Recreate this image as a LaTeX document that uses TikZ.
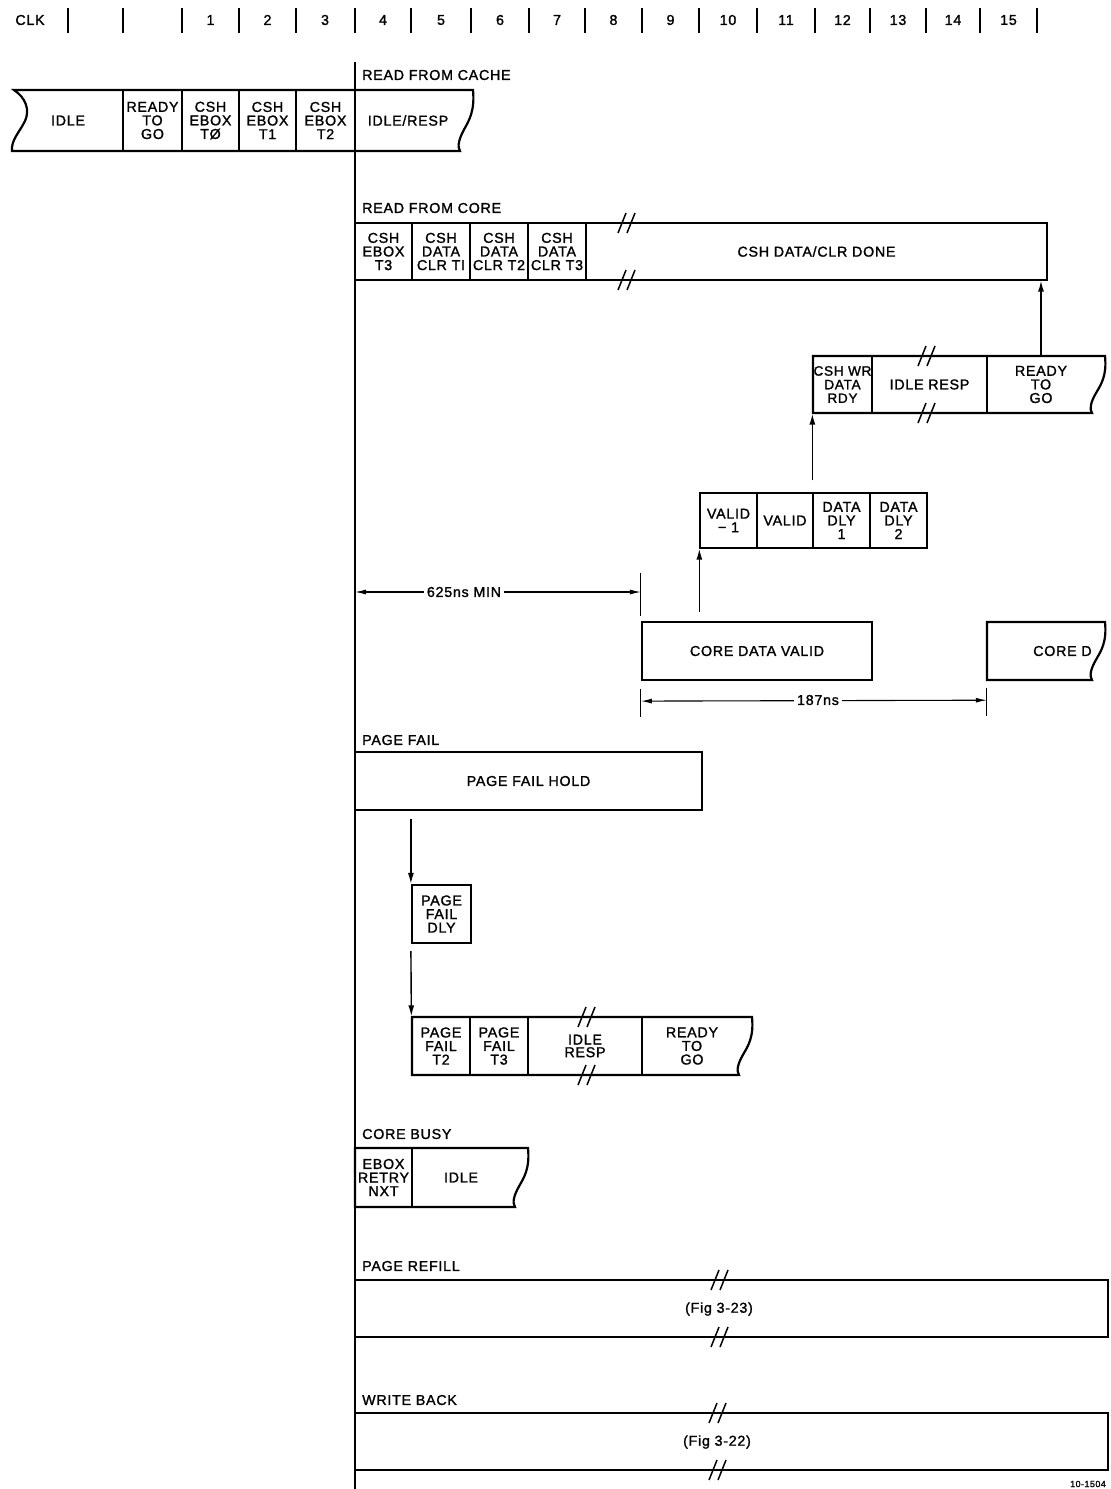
\documentclass[tikz,border=0pt]{standalone}
\usepackage{fontspec}
\setmainfont[LetterSpace=5,FakeBold=1.4]{Liberation Sans}
\usetikzlibrary{arrows.meta}
% torn (wavy) right edge box: left, top, right, bottom
\newcommand\tornbox[4]{%
  \draw[outline] (#1,#4) -- (#1,#2) -- (#3,#2)
    .. controls ({#3+2},{#2+0.35*(#4-#2)}) and ({#3-4},{#2+0.5*(#4-#2)}) .. ({#3-9},{#2+0.65*(#4-#2)})
    .. controls ({#3-14},{#2+0.8*(#4-#2)}) and ({#3-16},{#2+0.93*(#4-#2)}) .. ({#3-13},#4) -- cycle;}
\newcommand\brkmark[2]{%
  \draw[line width=1.5pt] ({#1-7},{#2+10}) -- ({#1+1},{#2-10}) ({#1+2},{#2+10}) -- ({#1+10},{#2-10});}
\begin{document}
\begin{tikzpicture}[x=1pt,y=-1pt,
  txt/.style={font=\fontsize{14.3}{13.6}\selectfont, align=center, inner sep=0pt},
  cell/.style 2 args={txt, draw, line width=1.3pt, minimum width=#1, minimum height=#2},
  blank/.style 2 args={txt, minimum width=#1, minimum height=#2},
  outline/.style={line width=2.2pt, line join=miter},
  lab/.style={txt, anchor=west},
  arr/.style={-{Latex[length=11pt,width=6pt]}, line width=1.4pt},
  dim/.style={{Latex[length=11pt,width=5pt]}-{Latex[length=11pt,width=5pt]}, line width=1.1pt},
  ext/.style={line width=1.1pt},
  tick/.style={line width=1.6pt}]
\useasboundingbox (0,0) rectangle (1111,1489);

% ---------- header ----------
\node[txt] (clk) at (30,20) {CLK};
\foreach \x in {68,123,182,239,296,355,411,471,529,585,642,699,757,815,870,926,980,1037}
  \draw[tick] (\x,8) -- (\x,33);
\foreach \n/\x in {1/210.5,2/267.5,3/325,4/383,5/441,6/500,7/557,8/613.5,9/670.5,10/728,11/786,12/842.5,13/898,14/953,15/1008.5}
  \node[txt] (h\n) at (\x,20) {\n};

% main time line
\draw[line width=1.6pt] (355,62) -- (355,1489);

% ---------- READ FROM CACHE ----------
\node[lab] (rfc) at (362,75) {READ FROM CACHE};
\node[blank={100}{61}] (idle0) at (68,120.5) {IDLE};
\node[cell={59}{61}] (rtg0) at (152.5,120.5) {READY\\TO\\GO};
\node[cell={57}{61}] (e0) at (210.5,120.5) {CSH\\EBOX\\TØ};
\node[cell={57}{61}] (e1) at (267.5,120.5) {CSH\\EBOX\\T1};
\node[cell={59}{61}] (e2) at (325.5,120.5) {CSH\\EBOX\\T2};
\node[blank={100}{61}] (ir0) at (408,120.5) {IDLE/RESP};
\draw[outline] (12,151) .. controls (11,140) and (19,133) .. (25,121)
  .. controls (30,110) and (26,98) .. (14,90) -- (473,90)
  .. controls (475,111) and (469,120.5) .. (464,129.6)
  .. controls (459,138.8) and (457,146.7) .. (460,151) -- cycle;

% ---------- READ FROM CORE ----------
\node[lab] (rfco) at (362,208) {READ FROM CORE};
\node[cell={57}{57}] (t3) at (383.5,251.5) {CSH\\EBOX\\T3};
\node[cell={58}{57}] (c1) at (441,251.5) {CSH\\DATA\\CLR TI};
\node[cell={58}{57}] (c2) at (499,251.5) {CSH\\DATA\\CLR T2};
\node[cell={58}{57}] (c3) at (557,251.5) {CSH\\DATA\\CLR T3};
\node[cell={461}{57}] (done) at (816.5,251.5) {CSH DATA/CLR DONE};
\draw[outline] (355,223) rectangle (1047,280);
\brkmark{625}{223}
\brkmark{625}{280}

% ---------- CSH WR row ----------
\node[cell={59}{57}, font=\fontsize{13.6}{13.6}\selectfont] (cshwr) at (842.5,384.5) {CSH WR\\DATA\\RDY};
\node[cell={115}{57}] (ir1) at (929.5,384.5) {IDLE RESP};
\node[blank={118}{57}] (rtg1) at (1041,384.5) {READY\\TO\\GO};
\tornbox{813}{356}{1105}{413}
\brkmark{925}{356}
\brkmark{925}{413}
\draw[arr] (rtg1.north) -- (rtg1.north |- done.south);

% ---------- VALID row ----------
\node[cell={57}{55}] (v1) at (728.5,520.5) {VALID\\− 1};
\node[cell={56}{55}] (v2) at (785,520.5) {VALID};
\node[cell={57}{55}] (d1) at (841.5,520.5) {DATA\\DLY\\1};
\node[cell={57}{55}] (d2) at (898.5,520.5) {DATA\\DLY\\2};
\draw[outline] (700,493) rectangle (927,548);
\draw[arr] (d1.north west) ++(0,-12) -- (cshwr.south west);

% ---------- CORE DATA VALID ----------
\node[cell={230}{58}, line width=2.2pt] (cdv) at (757,651) {CORE DATA VALID};
\node[blank={118}{58}] (cored) at (1046,651) {};
\begin{scope}
  \clip (987,600) rectangle (1096,700);
  \node[txt, anchor=west] (coredt) at (1033,651) {CORE D};
\end{scope}
\tornbox{987}{622}{1105}{680}
\draw[arr] (v1.south west |- cdv.north) ++(0,-9) -- (v1.south west);

% 625ns MIN
\draw[ext] (cdv.north west) ++(0,-5) -- ++(0,-43);
\coordinate (m1) at (355,592);
\coordinate (m2) at (cdv.north west |- m1);
\draw[dim] (m1) -- (m2);
\node[txt, fill=white, inner xsep=3pt, inner ysep=2pt] (t625) at (464,592) {625ns MIN};

% 187ns
\draw[ext] (cdv.south west) ++(0,8) -- ++(0,28);
\draw[ext] (cored.south west) ++(0,8) -- ++(0,28);
\path (cdv.south west) ++(0,20) coordinate (n1);
\path (cored.south west) ++(0,20) coordinate (n2);
\draw[dim] (n1) -- (n2);
\node[txt, fill=white, inner xsep=3pt, inner ysep=2pt] (t187) at (818,700) {187ns};

% ---------- PAGE FAIL ----------
\node[lab] (pfl) at (362,740) {PAGE FAIL};
\node[cell={347}{58}, line width=2.2pt] (pfh) at (528.5,781) {PAGE FAIL HOLD};
\node[cell={59}{58}, line width=2.2pt] (pfd) at (441.5,914) {PAGE\\FAIL\\DLY};
\node[cell={58}{58}] (pf2) at (441,1046) {PAGE\\FAIL\\T2};
\node[cell={58}{58}] (pf3) at (499,1046) {PAGE\\FAIL\\T3};
\node[cell={114}{58}, font=\fontsize{14.3}{12.6}\selectfont] (ir2) at (585,1046) {IDLE\\RESP};
\node[blank={100}{58}] (rtg2) at (692,1046) {READY\\TO\\GO};
\tornbox{412}{1017}{752}{1075}
\brkmark{585}{1017}
\brkmark{585}{1075}
\draw[arr] (pfh.south -| pfd.west) ++(0,8) -- (pfd.north west);
\draw[arr] (pfd.south west) ++(0,7) -- (pf2.north west);

% ---------- CORE BUSY ----------
\node[lab] (cbl) at (362,1134) {CORE BUSY};
\node[cell={57}{59}] (ebox) at (383.5,1177.5) {EBOX\\RETRY\\NXT};
\node[blank={80}{59}] (idle2) at (461,1177.5) {IDLE};
\tornbox{355}{1148}{528}{1207}

% ---------- PAGE REFILL ----------
\node[lab] (prl) at (362,1266) {PAGE REFILL};
\node[cell={753}{57}, line width=2.2pt] (pr) at (731.5,1308.5) {};
\node[txt] (prt) at (719,1309) {(Fig 3-23)};
\brkmark{718}{1280}
\brkmark{718}{1337}

% ---------- WRITE BACK ----------
\node[lab] (wbl) at (362,1400) {WRITE BACK};
\node[cell={753}{57}, line width=2.2pt] (wb) at (731.5,1441.5) {};
\node[txt] (wbt) at (717,1442) {(Fig 3-22)};
\brkmark{716}{1413}
\brkmark{716}{1470}

\node[txt, font=\fontsize{9}{9}\selectfont] (code) at (1088,1484) {10-1504};
\end{tikzpicture}
\end{document}
